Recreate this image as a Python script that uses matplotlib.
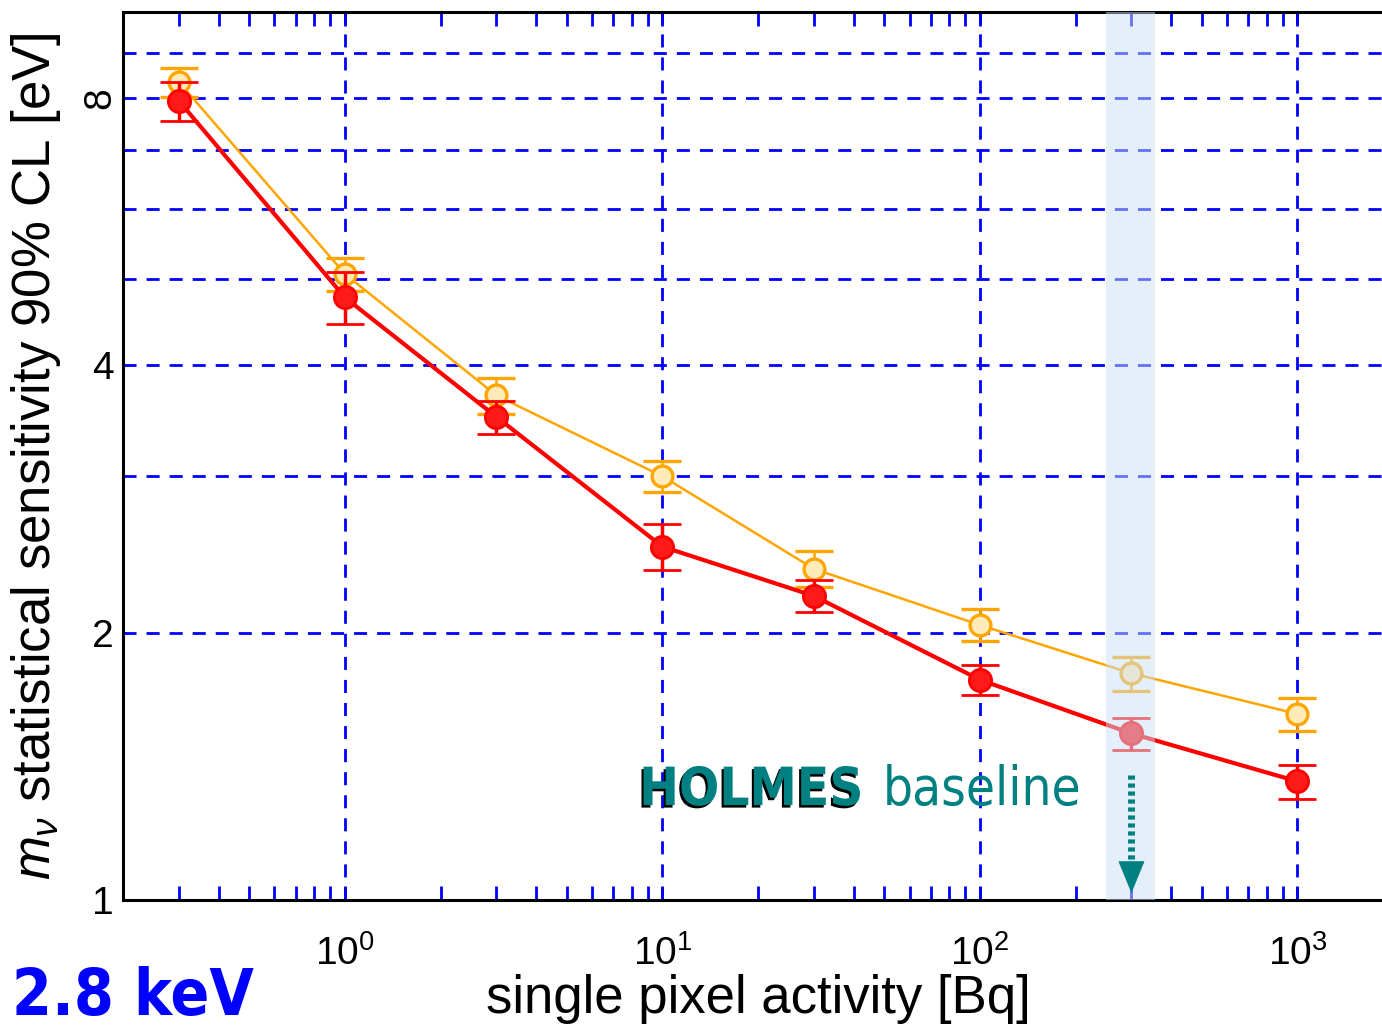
import matplotlib
matplotlib.use('Agg')
import matplotlib.pyplot as plt
import matplotlib.patheffects as pe
import matplotlib.transforms as mtransforms
from matplotlib.ticker import FixedLocator, FixedFormatter, NullFormatter, LogLocator, LogFormatterMathtext

plt.rcParams['font.family'] = ['Liberation Sans', 'DejaVu Sans']
plt.rcParams['mathtext.fontset'] = 'custom'
plt.rcParams['mathtext.rm'] = 'Liberation Sans'
plt.rcParams['mathtext.it'] = 'Liberation Sans:italic'

# single pixel activity [Bq]
activity = [0.3, 1, 3, 10, 30, 100, 300, 1000]

# sensitivity (eV), two configurations
sens_red = [7.94, 4.77, 3.50, 2.50, 2.20, 1.77, 1.54, 1.36]
err_red = [0.40, 0.32, 0.15, 0.15, 0.09, 0.07, 0.065, 0.06]
sens_orange = [8.34, 5.07, 3.70, 3.00, 2.36, 2.04, 1.80, 1.62]
err_orange = [0.31, 0.22, 0.17, 0.12, 0.11, 0.085, 0.08, 0.07]

y_major = [1, 2, 4, 8]
y_minor = [3, 5, 6, 7, 9]
y_sideways = 8   # this tick label is printed turned on its side

holmes_lo, holmes_hi = 250, 355   # HOLMES activity range
holmes_act = 300

teal = '#008080'
grid_blue = '#0000ff'

fig = plt.figure(figsize=(13.82, 10.26), dpi=100)
ax = fig.add_axes([0.0890, 0.1228, 0.9190, 0.8655])
ax.set_xscale('log')
ax.set_yscale('log')
ax.set_xlim(0.2, 2000)
ax.set_ylim(1, 10)

# data
ax.errorbar(activity, sens_orange, yerr=err_orange, color='#ffa500', lw=1.8,
            marker='o', ms=15, mfc='#ffeab8', mec='#ffa500', mew=2.4,
            elinewidth=1.8, capsize=14, capthick=2.2, zorder=3)
ax.errorbar(activity, sens_red, yerr=err_red, color='#ff0000', lw=3,
            marker='o', ms=16, mfc='#ff1a1a', mec='#ff0000', mew=2,
            elinewidth=2.5, capsize=14, capthick=2.5, zorder=4)

# shaded band sits on top so the points inside look washed out
ax.axvspan(holmes_lo, holmes_hi, color='#cbe1f5', alpha=0.5, lw=0, zorder=5)

# dotted arrow down to the axis
ax.plot([holmes_act, holmes_act], [1.383, 1.104], color=teal, lw=5,
        ls=(0, (0.6, 0.55)), solid_capstyle='butt', dash_capstyle='butt', zorder=6)
ax.annotate('', xy=(holmes_act, 1.018), xytext=(holmes_act, 1.106),
            arrowprops=dict(arrowstyle='-|>,head_length=1.1,head_width=0.45',
                            mutation_scale=20, color=teal, lw=0.5, shrinkA=0, shrinkB=0),
            zorder=6)

cond = ['DejaVu Sans Condensed', 'DejaVu Sans']
ax.text(8.45, 1.279, 'HOLMES', color=teal, fontsize=38, fontweight='bold',
        family=cond, stretch='condensed', va='baseline', ha='left', zorder=7,
        path_effects=[pe.SimplePatchShadow(offset=(-1.5, -1.8), shadow_rgbFace='black', alpha=1),
                      pe.Normal()])
ax.text(49.3, 1.279, 'baseline', color=teal, fontsize=38, family=cond,
        stretch='condensed', va='baseline', ha='left', zorder=7)

# grid and ticks
ax.yaxis.set_major_locator(FixedLocator(y_major))
ax.yaxis.set_minor_locator(FixedLocator(y_minor))
ax.yaxis.set_major_formatter(FixedFormatter(['' if v == y_sideways else str(v) for v in y_major]))
ax.yaxis.set_minor_formatter(NullFormatter())
ax.xaxis.set_major_locator(LogLocator(base=10, numticks=10))
ax.xaxis.set_minor_locator(LogLocator(base=10, subs=range(2, 10), numticks=20))
ax.xaxis.set_major_formatter(LogFormatterMathtext())
ax.xaxis.set_minor_formatter(NullFormatter())

ax.grid(True, which='major', axis='x', color=grid_blue, lw=2, ls=(0, (4.7, 3.6)))
ax.grid(True, which='both', axis='y', color=grid_blue, lw=2, ls=(0, (4.7, 3.6)))
ax.set_axisbelow(True)

ax.tick_params(axis='x', which='both', direction='in', top=True, bottom=True,
               color=grid_blue, length=10, width=2, labelsize=28, pad=25)
ax.tick_params(axis='y', which='both', length=0, labelsize=28, pad=7)

# sideways "8" placed next to its grid line
ytrans = mtransforms.blended_transform_factory(ax.transAxes, ax.transData)
ax.text(-0.018, y_sideways, str(y_sideways), transform=ytrans, rotation=90,
        fontsize=28, ha='center', va='center', clip_on=False)

for s in ax.spines.values():
    s.set_linewidth(2.2)
    s.set_color('black')

ax.set_xlabel('single pixel activity [Bq]', fontsize=38)
ax.xaxis.set_label_coords(0.5, -0.083)
ax.set_ylabel(r'$m_\nu$ statistical sensitivity 90% CL [eV]', fontsize=38)
ax.yaxis.set_label_coords(-0.047, 0.5)

fig.text(12 / 1382, 0.011, '2.8 keV', color='#0000ff', fontsize=46,
         fontweight='bold', family=cond, stretch='condensed', va='baseline', ha='left')

fig.savefig('out.png', dpi=100)
